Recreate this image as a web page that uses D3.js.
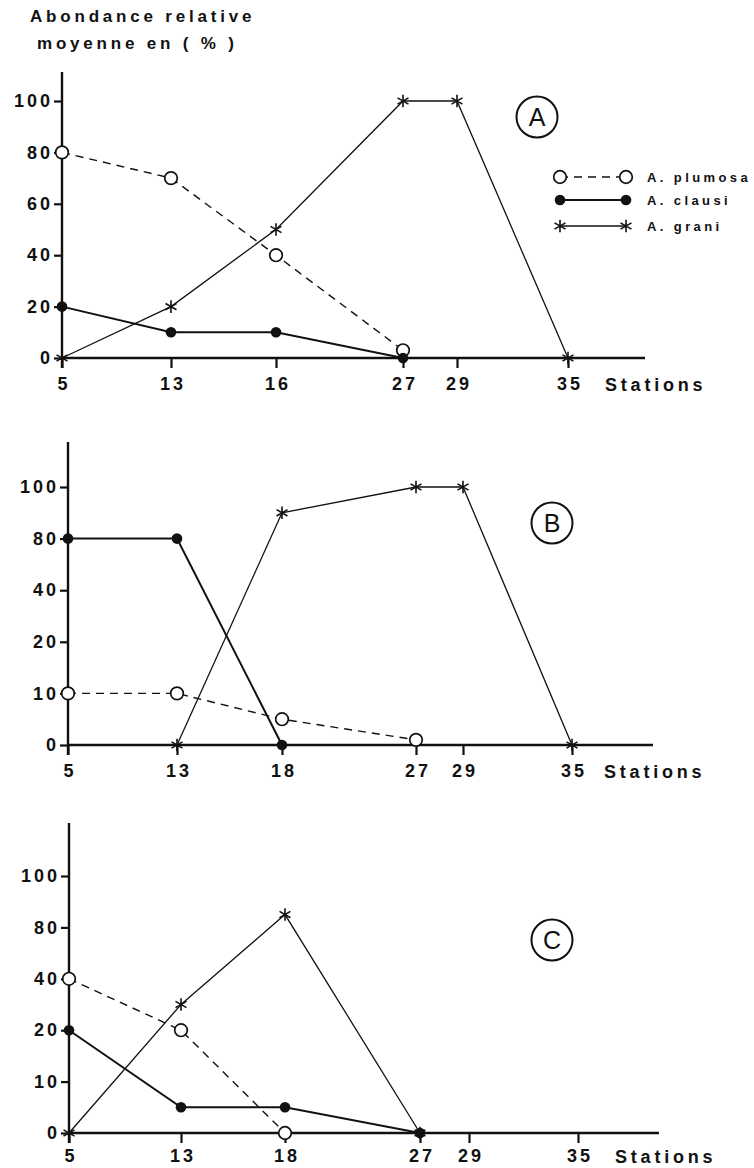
<!DOCTYPE html>
<html>
<head>
<meta charset="utf-8">
<script src="https://cdn.jsdelivr.net/npm/d3@7"></script>
<style>
body { margin: 0; background: #fff; }
svg { display: block; }
text { font-family: "Liberation Sans", Arial, sans-serif; font-weight: bold; fill: #111; }
</style>
</head>
<body>
<svg width="754" height="1168"></svg>
<script>
// stations on each x axis
const stationsA = [5, 13, 16, 27, 29, 35];
const stationsB = [5, 13, 18, 27, 29, 35];
const stationsC = [5, 13, 18, 27, 29, 35];

// y tick labels (evenly spaced on the page, whatever their value)
const yTicksA = [0, 20, 40, 60, 80, 100];
const yTicksB = [0, 10, 20, 40, 80, 100];
const yTicksC = [0, 10, 20, 40, 80, 100];

// mean relative abundance (%) per station, null = not plotted
const plumosaA = [80, 70, 40, 3, null, null];
const clausiA  = [20, 10, 10, 0, null, null];
const graniA   = [0, 20, 50, 100, 100, 0];

const plumosaB = [10, 10, 5, 1, null, null];
const clausiB  = [80, 80, 0, null, null, null];
const graniB   = [null, 0, 90, 100, 100, 0];

const plumosaC = [40, 20, 0, null, null, null];
const clausiC  = [20, 5, 5, 0, null, null];
const graniC   = [0, 30, 85, 0, null, null];

const species = ["A. plumosa", "A. clausi", "A. grani"];

const svg = d3.select("svg");
const ink = "#111";

// six-armed star like the hand drawn "*"
const asterisk = {
    draw(ctx, size) {
        const r = Math.sqrt(size) / 2, t = r / 2, u = t * Math.sqrt(3);
        ctx.moveTo(0, r); ctx.lineTo(0, -r);
        ctx.moveTo(-u, -t); ctx.lineTo(u, t);
        ctx.moveTo(-u, t); ctx.lineTo(u, -t);
    }
};

const styles = [
    {dash: "8,6", width: 1.4, marker: "open"},
    {dash: null, width: 2, marker: "dot"},
    {dash: null, width: 1.3, marker: "star"}
];

const panels = [
    {name: "A", stations: stationsA, yTicks: yTicksA, series: [plumosaA, clausiA, graniA],
     left: 62, slots: [0, 109, 214, 341, 395, 506], axisEnd: 645, zero: 358, step: 51.4, top: 72,
     badge: [537, 117], stationsX: 605, labelDrop: 33, legend: true},
    {name: "B", stations: stationsB, yTicks: yTicksB, series: [plumosaB, clausiB, graniB],
     left: 68, slots: [0, 109, 214, 348, 395, 504], axisEnd: 653, zero: 745, step: 51.6, top: 442,
     badge: [552, 523], stationsX: 604, labelDrop: 33, legend: false},
    {name: "C", stations: stationsC, yTicks: yTicksC, series: [plumosaC, clausiC, graniC],
     left: 69, slots: [0, 112, 216, 351, 400, 509], axisEnd: 659, zero: 1133, step: 51.4, top: 823,
     badge: [552, 940], stationsX: 615, labelDrop: 30, legend: false}
];

function drawMarker(g, kind, cx, cy) {
    if (kind === "open") {
        g.append("circle").attr("cx", cx).attr("cy", cy).attr("r", 6.3)
            .attr("fill", "#fff").attr("stroke", ink).attr("stroke-width", 1.7);
    } else if (kind === "dot") {
        g.append("circle").attr("cx", cx).attr("cy", cy).attr("r", 5.3).attr("fill", ink);
    } else {
        g.append("path").attr("transform", `translate(${cx},${cy})`)
            .attr("d", d3.symbol(asterisk, 160)())
            .attr("fill", "none").attr("stroke", ink).attr("stroke-width", 1.6);
    }
}

// title
svg.append("text").attr("x", 30).attr("y", 22).attr("font-size", 17)
    .attr("letter-spacing", 3.8).text("Abondance relative");
svg.append("text").attr("x", 37).attr("y", 49).attr("font-size", 17)
    .attr("letter-spacing", 3.8).text("moyenne en ( % )");

panels.forEach(p => {
    const g = svg.append("g");
    const x = d3.scaleLinear().domain(p.stations).range(p.slots.map(s => p.left + s));
    const y = d3.scaleLinear().domain(p.yTicks).range(p.yTicks.map((d, i) => p.zero - i * p.step));

    // axis lines
    g.append("line").attr("x1", p.left).attr("x2", p.left).attr("y1", p.top).attr("y2", p.zero + 10)
        .attr("stroke", ink).attr("stroke-width", 2.4);
    g.append("line").attr("x1", p.left).attr("x2", p.axisEnd).attr("y1", p.zero).attr("y2", p.zero)
        .attr("stroke", ink).attr("stroke-width", 2.4);

    const yAxis = g.append("g").attr("transform", `translate(${p.left},0)`)
        .call(d3.axisLeft(y).tickValues(p.yTicks).tickSize(8).tickPadding(4).tickFormat(d3.format("d")));
    const xAxis = g.append("g").attr("transform", `translate(0,${p.zero})`)
        .call(d3.axisBottom(x).tickValues(p.stations).tickSize(10).tickPadding(p.labelDrop - 24).tickFormat(d3.format("d")));
    [yAxis, xAxis].forEach(a => {
        a.select(".domain").remove();
        a.selectAll(".tick line").attr("stroke", ink).attr("stroke-width", 2.2);
        a.selectAll(".tick text").attr("fill", ink).attr("font-size", 18)
            .attr("font-family", null).attr("letter-spacing", 3);
    });
    yAxis.selectAll(".tick text").attr("dx", 3);
    xAxis.selectAll(".tick text").attr("dx", 1.5);

    g.append("text").attr("x", p.stationsX).attr("y", p.zero + p.labelDrop).attr("font-size", 18)
        .attr("letter-spacing", 3.8).text("Stations");

    // series
    p.series.forEach((vals, k) => {
        const st = styles[k];
        const pts = p.stations.map((s, i) => ({s, v: vals[i]})).filter(d => d.v != null);
        g.append("path").datum(pts)
            .attr("d", d3.line().x(d => x(d.s)).y(d => y(d.v)))
            .attr("fill", "none").attr("stroke", ink).attr("stroke-width", st.width)
            .attr("stroke-dasharray", st.dash);
        pts.forEach(d => drawMarker(g, st.marker, x(d.s), y(d.v)));
    });

    // circled panel letter
    g.append("circle").attr("cx", p.badge[0]).attr("cy", p.badge[1]).attr("r", 20.5)
        .attr("fill", "none").attr("stroke", ink).attr("stroke-width", 2);
    g.append("text").attr("x", p.badge[0]).attr("y", p.badge[1] + 9).attr("text-anchor", "middle")
        .attr("font-size", 25).style("font-weight", "normal").text(p.name);

    if (p.legend) {
        const lg = g.append("g");
        species.forEach((name, k) => {
            const st = styles[k];
            const cy = [177, 200, 226][k];
            lg.append("line").attr("x1", 560).attr("x2", 626).attr("y1", cy).attr("y2", cy)
                .attr("stroke", ink).attr("stroke-width", st.width).attr("stroke-dasharray", st.dash);
            drawMarker(lg, st.marker, 560, cy);
            drawMarker(lg, st.marker, 626, cy);
            lg.append("text").attr("x", 647).attr("y", cy + 5).attr("font-size", 13)
                .attr("letter-spacing", 3.4).text(name);
        });
    }
});
</script>
</body>
</html>
